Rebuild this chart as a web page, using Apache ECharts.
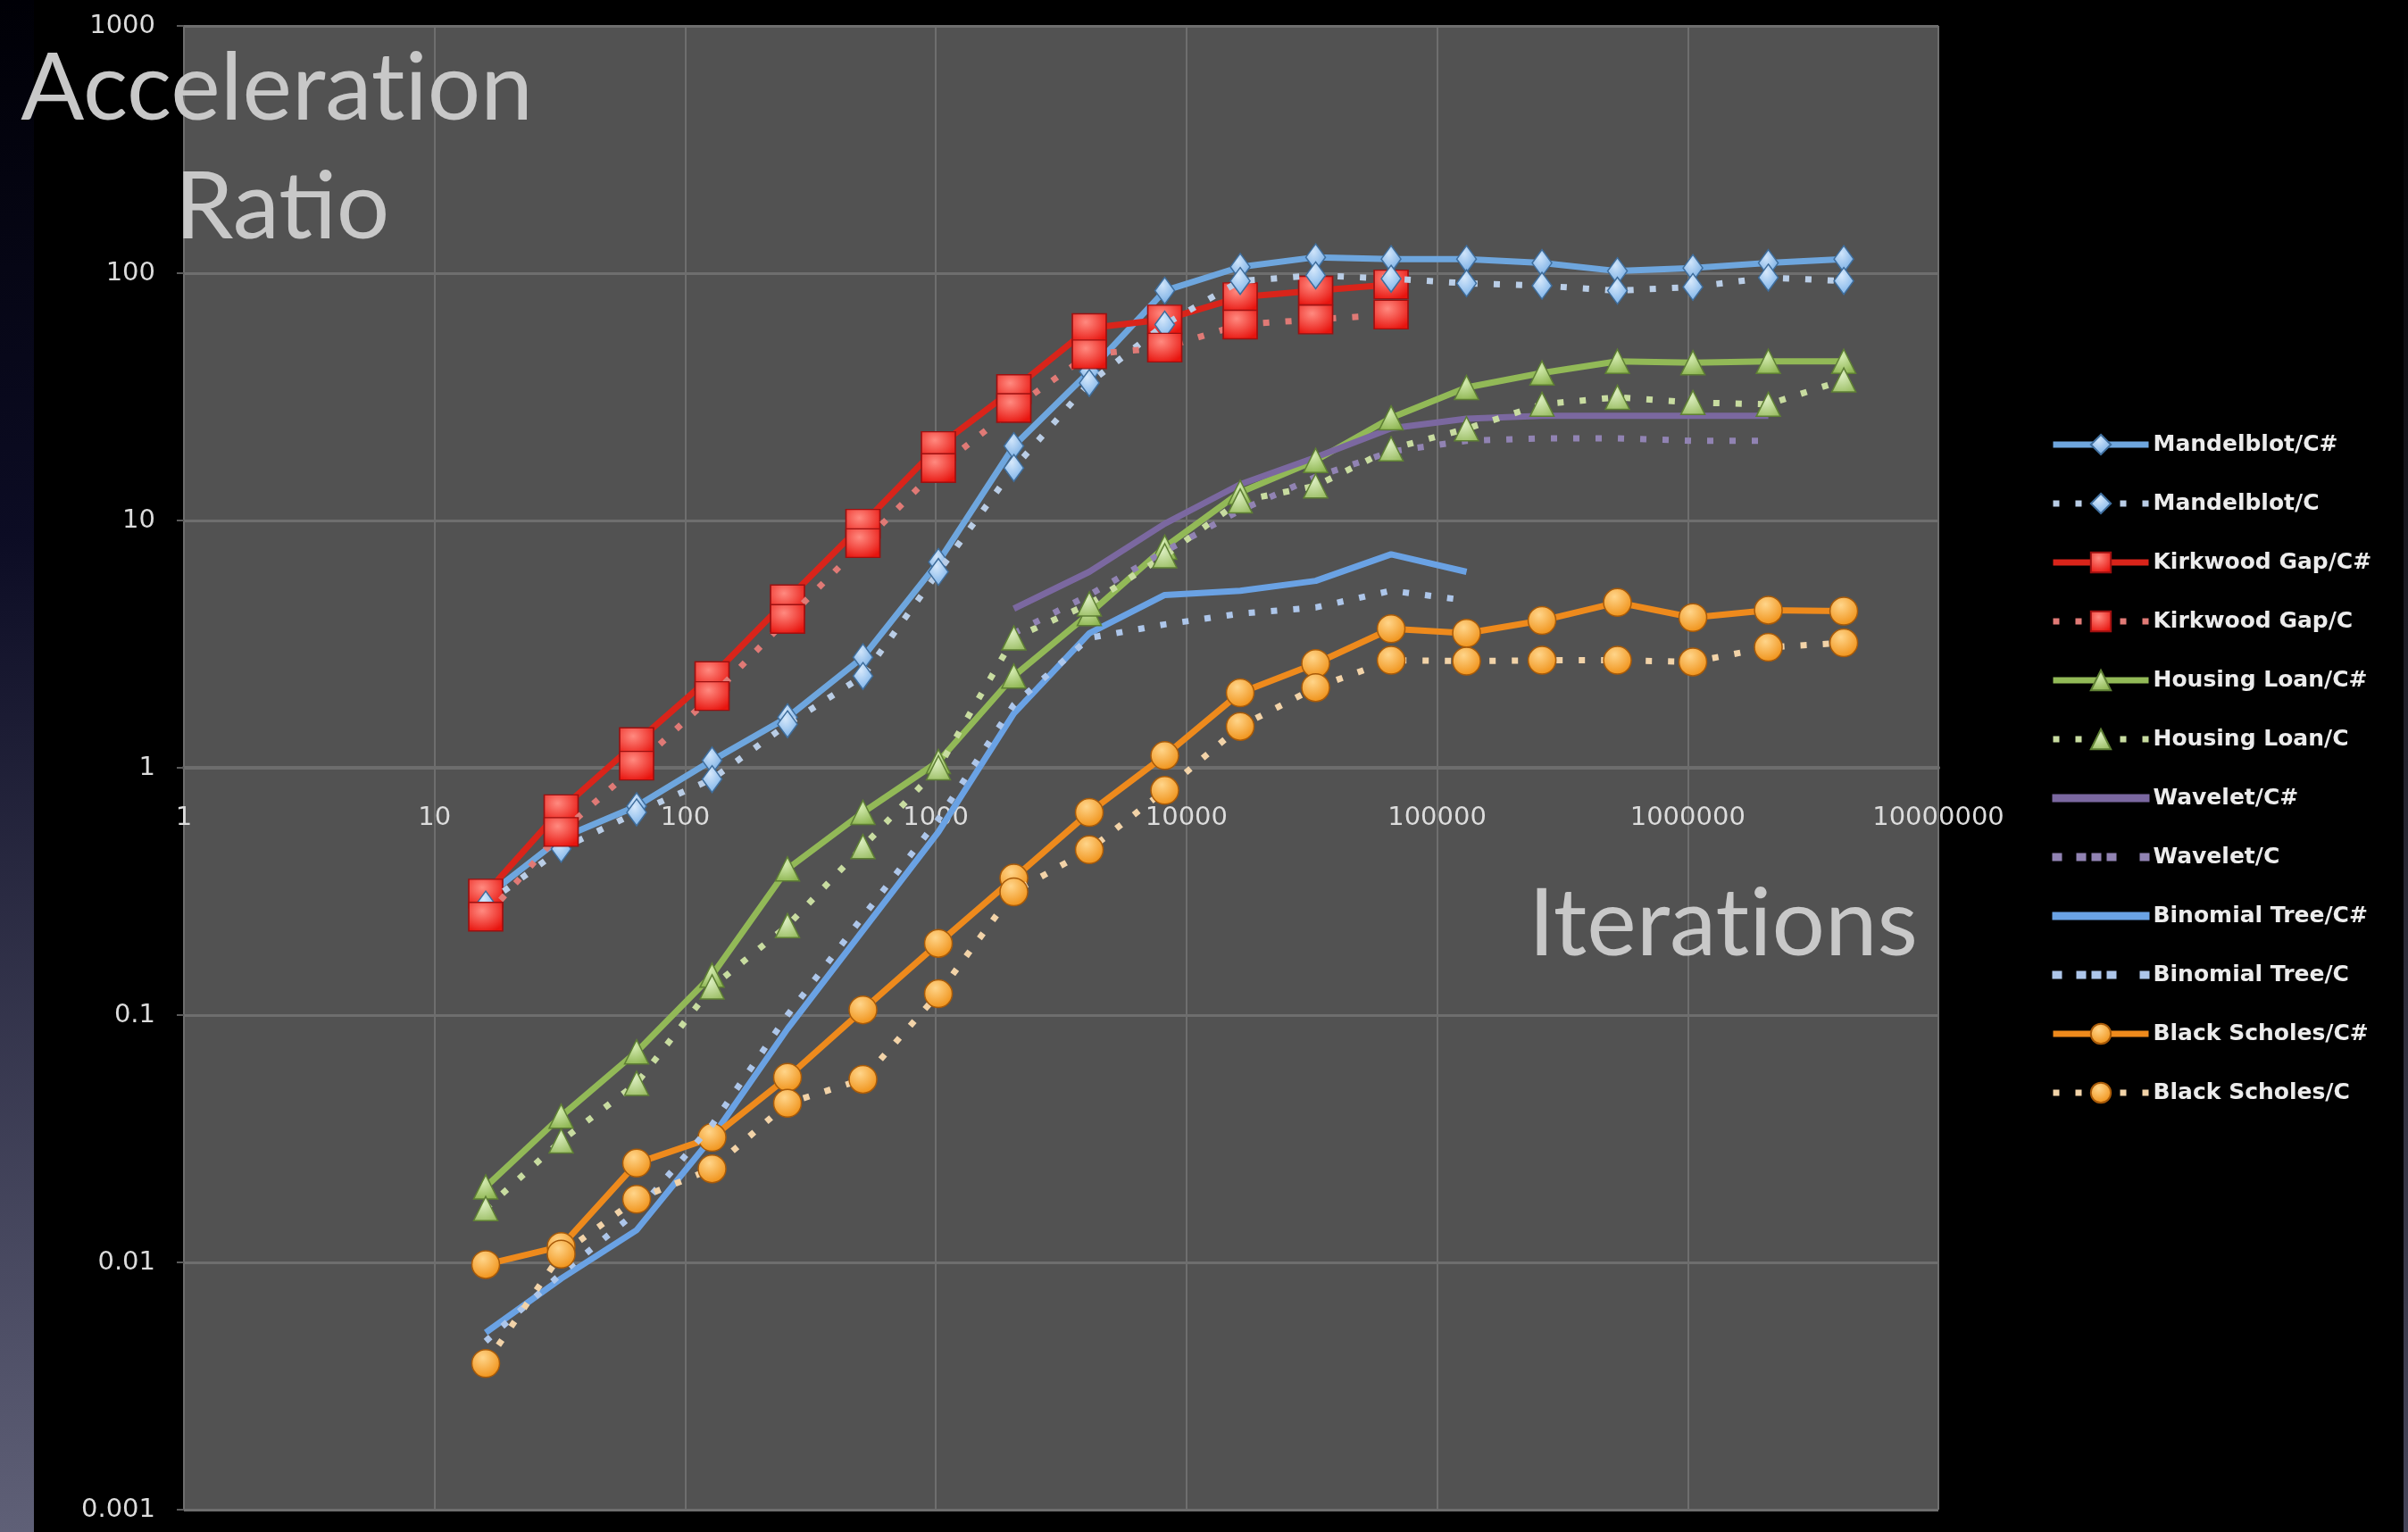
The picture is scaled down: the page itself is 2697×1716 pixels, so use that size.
<!DOCTYPE html>
<html>
<head>
<meta charset="utf-8">
<title>Acceleration Ratio</title>
<script src="https://cdn.jsdelivr.net/npm/echarts@6/dist/echarts.min.js"></script>
<style>
    html, body { margin: 0; padding: 0; background: #000; }
    #chart { width: 2697px; height: 1716px; }
</style>
</head>
<body>
<div id="chart"></div>
<script>
// x values (iterations) and tick labels
var iterations = [16, 32, 64, 128, 256, 512, 1024, 2048, 4096, 8192, 16384, 32768, 65536, 131072, 262144, 524288, 1048576, 2097152, 4194304];
var xTickLabels = ['1', '10', '100', '1000', '10000', '100000', '1000000', '10000000'];
var yTickLabels = ['0.001', '0.01', '0.1', '1', '10', '100', '1000'];

// acceleration ratios, one value per iteration count (null = not measured)
var mandelbrotCs = [0.30, 0.52, 0.70, 1.07, 1.6, 2.8, 6.8, 20, 40, 85, 106, 116, 114, 114, 110, 102, 105, 110, 114];
var mandelbrotC = [0.28, 0.47, 0.66, 0.90, 1.5, 2.35, 6.2, 16.3, 36, 62, 93, 98, 95, 91, 89, 85, 88, 96, 93];
var kirkwoodCs = [0.31, 0.68, 1.27, 2.35, 4.8, 9.7, 20, 34, 60, 65, 80, 85, 90, null, null, null, null, null, null];
var kirkwoodC = [0.25, 0.55, 1.02, 1.95, 4.0, 8.1, 16.3, 28.5, 47, 50, 62, 65, 68, null, null, null, null, null, null];
var housingCs = [0.0202, 0.039, 0.071, 0.145, 0.39, 0.66, 1.06, 2.35, 4.2, 7.8, 13, 17.5, 26, 34.5, 39.5, 44, 43.5, 44, 44];
var housingC = [0.0165, 0.031, 0.053, 0.13, 0.23, 0.48, 1.0, 3.35, 4.6, 7.2, 12, 13.8, 19.5, 23.5, 29.5, 31.5, 30, 29.5, 37];
var waveletCs = [null, null, null, null, null, null, null, 4.4, 6.2, 9.7, 14, 18, 23.6, 25.8, 26.5, 26.5, 26.5, 26.5, null];
var waveletC = [null, null, null, null, null, null, null, 3.5, 5.0, 7.5, 11, 15, 19, 21, 21.5, 21.5, 21, 21, null];
var binomialCs = [0.0052, 0.0086, 0.0135, 0.032, 0.088, 0.22, 0.55, 1.66, 3.5, 5.0, 5.2, 5.7, 7.3, 6.2, null, null, null, null, null];
var binomialC = [0.0048, 0.009, 0.016, 0.036, 0.10, 0.25, 0.62, 1.8, 3.35, 3.8, 4.2, 4.45, 5.2, 4.75, null, null, null, null, null];
var blackCs = [0.0098, 0.0116, 0.0252, 0.032, 0.056, 0.105, 0.195, 0.358, 0.66, 1.12, 2.01, 2.64, 3.65, 3.5, 3.94, 4.66, 4.05, 4.34, 4.3];
var blackC = [0.0039, 0.0108, 0.018, 0.0239, 0.044, 0.055, 0.122, 0.315, 0.466, 0.81, 1.47, 2.11, 2.72, 2.7, 2.72, 2.72, 2.68, 3.07, 3.2];

var axisTextStyle = {
    color: '#dcdcdc',
    fontFamily: 'DejaVu Sans',
    fontSize: 29
};
var titleFont = '105px Lato';
var titleColor = '#c8c8c8';
var dotDash = [7, 18];   // dotted look of the "/C" series

// legend icons for the series that have no marker
var plainLineIcon = 'path://M0,0H107V7H0Z';
var dottedLineIcon = 'path://M0,0H9V7H0Z M27,0H36V7H27Z M44,0H53V7H44Z M61,0H70V7H61Z M98,0H107V7H98Z';

function pairs(vals) {
    var out = [];
    for (var i = 0; i < vals.length; i++) {
        if (vals[i] != null) {
            out.push([iterations[i], vals[i]]);
        }
    }
    return out;
}

function markerFill(light, base) {
    return new echarts.graphic.RadialGradient(0.4, 0.3, 0.75, [
        { offset: 0, color: light },
        { offset: 1, color: base }
    ]);
}

// one line series; dotted=true for the C versions
function makeSeries(name, vals, lineColor, dotted, symbol, size, fill, border) {
    return {
        name: name,
        type: 'line',
        data: pairs(vals),
        symbol: symbol || 'none',
        symbolSize: size || 0,
        showSymbol: !!symbol,
        lineStyle: {
            color: lineColor,
            width: 7,
            type: dotted ? dotDash : 'solid',
            cap: 'butt'
        },
        itemStyle: {
            color: fill || lineColor,
            borderColor: border || lineColor,
            borderWidth: 1.5
        },
        emphasis: { disabled: true },
        z: dotted ? 3 : 2
    };
}

function titleText(text, x, y) {
    return {
        type: 'text',
        z: 100,
        style: {
            text: text,
            x: x,
            y: y,
            fill: titleColor,
            font: titleFont,
            align: 'center',
            verticalAlign: 'middle',
            textAlign: 'center',
            textVerticalAlign: 'middle'
        }
    };
}

var chart = echarts.init(document.getElementById('chart'));

var option = {
    backgroundColor: '#000',
    animation: false,
    grid: {
        left: 206,
        right: 526,
        top: 29,
        bottom: 25,
        show: true,
        backgroundColor: '#525252',
        borderWidth: 0
    },
    xAxis: {
        type: 'log',
        logBase: 10,
        min: 1,
        max: 10000000,
        splitNumber: 7,
        position: 'bottom',
        offset: -831,   // axis sits on the y = 1 line
        axisLine: { show: true, lineStyle: { color: '#6d6d6d', width: 4 } },
        axisTick: { show: false },
        axisLabel: {
            margin: 42,
            color: axisTextStyle.color,
            fontFamily: axisTextStyle.fontFamily,
            fontSize: axisTextStyle.fontSize,
            formatter: function (v) {
                return xTickLabels[Math.round(Math.log10(v))];
            }
        },
        splitLine: { show: true, lineStyle: { color: '#6e6e6e', width: 2 } }
    },
    yAxis: {
        type: 'log',
        logBase: 10,
        min: 0.001,
        max: 1000,
        splitNumber: 6,
        axisLine: { show: false },
        axisTick: { show: true, length: 8, lineStyle: { color: '#5a5a5a', width: 2 } },
        axisLabel: {
            margin: 32,
            color: axisTextStyle.color,
            fontFamily: axisTextStyle.fontFamily,
            fontSize: axisTextStyle.fontSize,
            formatter: function (v) {
                return yTickLabels[Math.round(Math.log10(v)) + 3];
            }
        },
        splitLine: { show: true, lineStyle: { color: '#6e6e6e', width: 3 } }
    },
    legend: {
        orient: 'vertical',
        left: 2296,
        top: 484,
        padding: 0,
        itemWidth: 107,
        itemHeight: 28,
        itemGap: 38,
        selectedMode: false,
        lineStyle: { width: 7 },
        textStyle: {
            color: '#ececec',
            fontFamily: 'DejaVu Sans',
            fontWeight: 'bold',
            fontSize: 25,
            lineHeight: 28
        },
        data: [
            'Mandelblot/C#',
            'Mandelblot/C',
            'Kirkwood Gap/C#',
            'Kirkwood Gap/C',
            'Housing Loan/C#',
            'Housing Loan/C',
            { name: 'Wavelet/C#', icon: plainLineIcon },
            { name: 'Wavelet/C', icon: dottedLineIcon },
            { name: 'Binomial Tree/C#', icon: plainLineIcon },
            { name: 'Binomial Tree/C', icon: dottedLineIcon },
            'Black Scholes/C#',
            'Black Scholes/C'
        ]
    },
    graphic: [
        // bluish fade on the far left edge
        {
            type: 'rect',
            left: 0,
            top: 0,
            z: -10,
            shape: { width: 38, height: 1716 },
            style: {
                fill: new echarts.graphic.LinearGradient(0, 0, 0, 1, [
                    { offset: 0, color: '#000006' },
                    { offset: 0.35, color: '#0c0c24' },
                    { offset: 1, color: '#5f6077' }
                ])
            }
        },
        {
            type: 'rect',
            left: 2692,
            top: 0,
            z: -10,
            shape: { width: 5, height: 1716 },
            style: {
                fill: new echarts.graphic.LinearGradient(0, 0, 0, 1, [
                    { offset: 0, color: '#000000' },
                    { offset: 1, color: '#444458' }
                ])
            }
        },
        // zero width non-joiner keeps Lato from drawing a "ti" ligature
        titleText('Accelerat\u200Cion', 310, 100),
        titleText('Ratio', 316, 233),
        titleText('Iterat\u200Cions', 1930, 1036)
    ],
    series: [
        makeSeries('Mandelblot/C#', mandelbrotCs, '#6ea6de', false, 'diamond', [22, 30], markerFill('#cfe4fa', '#6fa8e2'), '#3e6d9c'),
        makeSeries('Mandelblot/C', mandelbrotC, '#b9cde6', true, 'diamond', [22, 30], markerFill('#d6e8fb', '#78b0e8'), '#3e6d9c'),
        makeSeries('Kirkwood Gap/C#', kirkwoodCs, '#d9241a', false, 'rect', [38, 32], markerFill('#ff8a80', '#e8140e'), '#9c1010'),
        makeSeries('Kirkwood Gap/C', kirkwoodC, '#e07a76', true, 'rect', [38, 32], markerFill('#ff8a80', '#e8140e'), '#9c1010'),
        makeSeries('Housing Loan/C#', housingCs, '#92b957', false, 'triangle', 27, markerFill('#d4ebb0', '#8db550'), '#5e7f34'),
        makeSeries('Housing Loan/C', housingC, '#c8dca0', true, 'triangle', 27, markerFill('#dceec0', '#9cbf66'), '#5e7f34'),
        makeSeries('Wavelet/C#', waveletCs, '#7b68a0', false),
        makeSeries('Wavelet/C', waveletC, '#9183b3', true),
        makeSeries('Binomial Tree/C#', binomialCs, '#6aa2e4', false),
        makeSeries('Binomial Tree/C', binomialC, '#adc6ea', true),
        makeSeries('Black Scholes/C#', blackCs, '#ee8a1c', false, 'circle', 31, markerFill('#ffd58a', '#ef8e12'), '#a85a08'),
        makeSeries('Black Scholes/C', blackC, '#f2d3a8', true, 'circle', 31, markerFill('#ffd58a', '#ef8e12'), '#a85a08')
    ]
};

chart.setOption(option);
</script>
</body>
</html>
